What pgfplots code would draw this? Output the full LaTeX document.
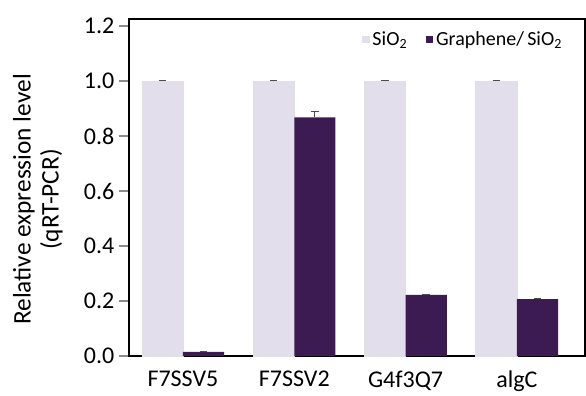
\documentclass[border=0pt]{standalone}
\usepackage{fontspec}
\setmainfont{Carlito}
\usepackage{pgfplots}
\pgfplotsset{compat=1.18}
\definecolor{lightbar}{HTML}{E3DEEB}
\definecolor{darkbar}{HTML}{3C1A52}
\begin{document}
\begin{tikzpicture}
\begin{axis}[
  name=ax,
  scale only axis,
  width=342pt, height=252.75pt,
  xmin=-0.485, xmax=3.612,
  ymin=0, ymax=1.2255,
  ybar=0pt,
  bar width=0.37,
  axis line style={black, line width=1.4pt},
  ytick={0,0.2,0.4,0.6,0.8,1.0,1.2},
  yticklabel style={/pgf/number format/fixed, /pgf/number format/fixed zerofill, /pgf/number format/precision=1},
  /pgf/number format/assume math mode=true,
  ytick pos=left,
  tick align=outside,
  major tick length=7.5pt,
  y tick style={black!45, line width=0.8pt},
  xtick={0,1,2,3},
  xticklabels={F7SSV5,F7SSV2,G4f3Q7,algC},
  x tick style={draw=none},
  xticklabel style={yshift=0pt},
  tick label style={font=\fontsize{18}{20}\selectfont},
  ylabel={Relative expression level\\(qRT-PCR)},
  ylabel style={align=center, font=\fontsize{19}{21}\selectfont, yshift=9pt, xshift=-9pt},
  legend columns=2,
  legend style={at={(rel axis cs:0.965,0.98)}, anchor=north east, draw=none, fill=none,
    font=\fontsize{15}{17}\selectfont, /tikz/every even column/.append style={column sep=12pt}},
  legend image code/.code={\fill[#1, draw=none] (-3pt,-2.8pt) rectangle (2.6pt,2.8pt);},
]
\addplot[fill=lightbar, draw=black!12,
  error bars/.cd, y dir=plus, y explicit,
  error bar style={black!70, line width=0.6pt},
  error mark options={rotate=90, mark size=2.8pt, black!70, line width=0.8pt}]
  coordinates {(0,1.0) +- (0,0.002) (1,1.0) +- (0,0.002) (2,1.0) +- (0,0.002) (3,1.0) +- (0,0.002)};
\addlegendentry{SiO\textsubscript{2}}
\addplot[fill=darkbar, draw=none,
  error bars/.cd, y dir=plus, y explicit,
  error bar style={black!70, line width=0.6pt},
  error mark options={rotate=90, mark size=2.8pt, black!70, line width=0.8pt}]
  coordinates {(0,0.015) +- (0,0.003) (1,0.868) +- (0,0.02) (2,0.222) +- (0,0.003) (3,0.207) +- (0,0.003)};
\addlegendentry{Graphene/\,SiO\textsubscript{2}}
\end{axis}
\path[use as bounding box] ([xshift=-96.75pt,yshift=-21pt]ax.south west) rectangle ([xshift=0.75pt,yshift=14.25pt]ax.north east);
\end{tikzpicture}
\end{document}
